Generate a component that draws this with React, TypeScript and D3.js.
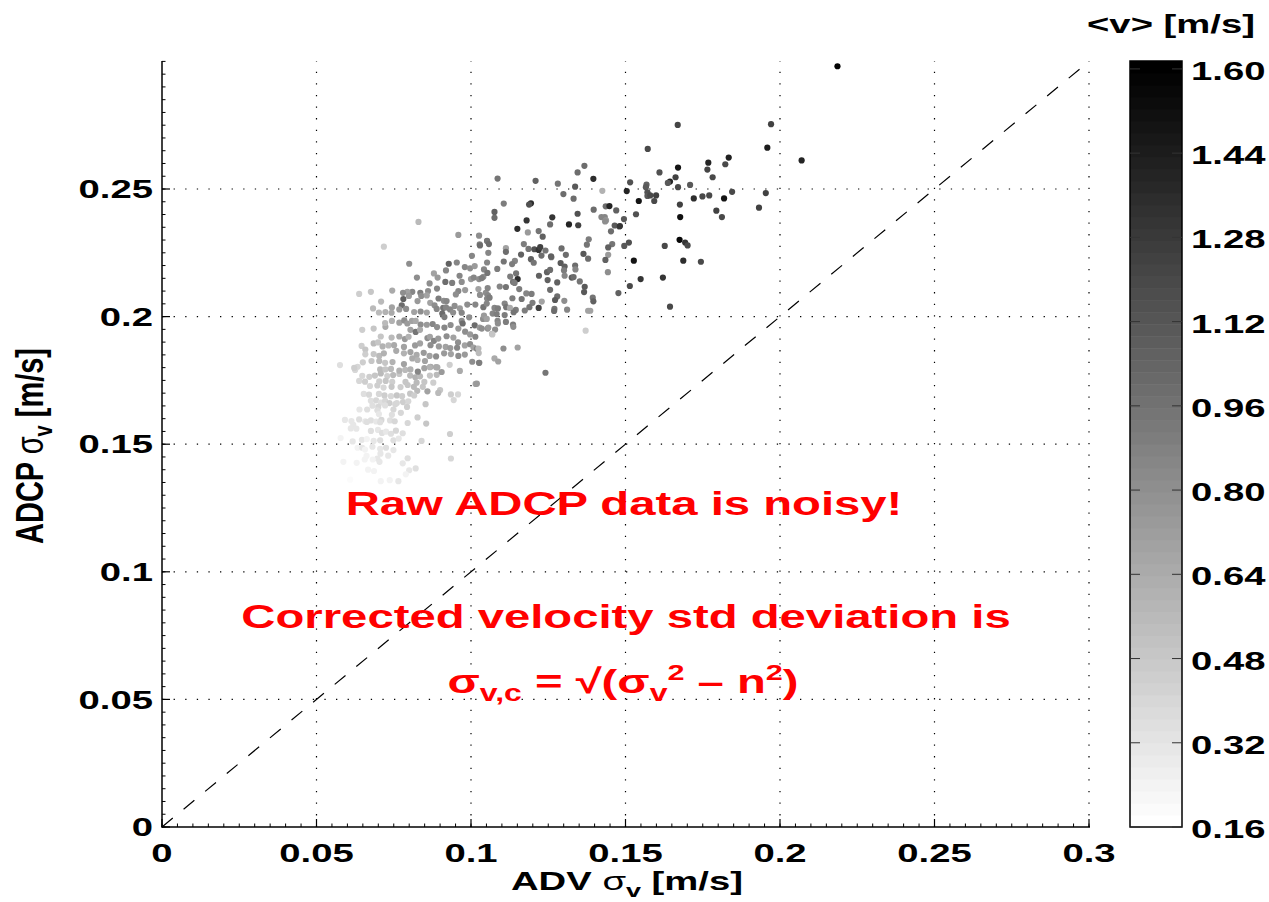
import React from 'react';
import * as d3 from 'd3';

// ---------- axis / colorbar ticks ----------
const xTicks = [0, 0.05, 0.1, 0.15, 0.2, 0.25, 0.3];
const xTickLabels = ['0', '0.05', '0.1', '0.15', '0.2', '0.25', '0.3'];
const yTicks = [0, 0.05, 0.1, 0.15, 0.2, 0.25];
const yTickLabels = ['0', '0.05', '0.1', '0.15', '0.2', '0.25'];
const cbarTicks = [0.16, 0.32, 0.48, 0.64, 0.8, 0.96, 1.12, 1.28, 1.44, 1.6];
const cbarTickLabels = ['0.16', '0.32', '0.48', '0.64', '0.80', '0.96', '1.12', '1.28', '1.44', '1.60'];
const cbarDomain = [0.16, 1.615];

// ---------- data: [ADV sigma_v, ADCP sigma_v, <v>] ----------
type P = [number, number, number];

const lowerTail: P[] = [
  [0.0625,0.1791,0.40],[0.0648,0.1768,0.40],[0.0671,0.1764,0.45],[0.0689,0.1769,0.50],[0.0708,0.1777,0.55],
  [0.0729,0.1767,0.45],[0.0748,0.1771,0.55],[0.0768,0.1775,0.50],[0.0803,0.1769,0.55],[0.0820,0.1762,0.60],
  [0.0835,0.1766,0.55],[0.0867,0.1769,0.50],[0.0889,0.1772,0.55],[0.1015,0.1736,0.70],[0.0638,0.1748,0.40],
  [0.0657,0.1745,0.45],[0.0703,0.1746,0.45],[0.0724,0.1748,0.50],[0.0745,0.1744,0.45],[0.0788,0.1744,0.50],
  [0.0824,0.1741,0.55],[0.0849,0.1744,0.50],[0.0878,0.1741,0.45],[0.0673,0.1728,0.40],[0.0697,0.1730,0.45],
  [0.0717,0.1722,0.40],[0.0743,0.1725,0.50],[0.0772,0.1724,0.45],[0.0795,0.1732,0.50],[0.0815,0.1725,0.55],
  [0.0844,0.1725,0.50],[0.0859,0.1707,0.70],[0.0826,0.1709,0.55],[0.0900,0.1712,0.50],[0.0894,0.1701,0.55],
  [0.0653,0.1697,0.35],[0.0670,0.1694,0.40],[0.0702,0.1697,0.40],[0.0720,0.1691,0.45],[0.0741,0.1688,0.40],
  [0.0760,0.1691,0.50],[0.0777,0.1688,0.45],[0.0803,0.1698,0.50],[0.0816,0.1691,0.45],[0.0935,0.1695,0.45],
  [0.0958,0.1695,0.40],[0.0676,0.1670,0.35],[0.0693,0.1672,0.40],[0.0708,0.1663,0.35],[0.0722,0.1670,0.40],
  [0.0736,0.1661,0.45],[0.0760,0.1661,0.40],[0.0780,0.1665,0.45],[0.0797,0.1668,0.40],[0.0944,0.1673,0.40],
  [0.0681,0.1651,0.35],[0.0700,0.1646,0.40],[0.0722,0.1652,0.35],[0.0755,0.1657,0.40],[0.0793,0.1646,0.45],
  [0.0853,0.1657,0.50],[0.0639,0.1636,0.30],[0.0664,0.1636,0.35],[0.0697,0.1633,0.35],[0.0749,0.1636,0.40],
  [0.0702,0.1618,0.30],[0.0744,0.1615,0.35],[0.0773,0.1623,0.40],[0.0592,0.1595,0.30],[0.0613,0.1591,0.30],
  [0.0638,0.1597,0.35],[0.0658,0.1590,0.30],[0.0676,0.1593,0.35],[0.0693,0.1589,0.30],[0.0710,0.1595,0.40],
  [0.0738,0.1593,0.35],[0.0753,0.1590,0.40],[0.0795,0.1583,0.40],[0.0827,0.1605,0.45],[0.0855,0.1581,0.50],
  [0.0619,0.1576,0.30],[0.0663,0.1587,0.35],[0.0706,0.1586,0.35],[0.0611,0.1562,0.30],[0.0629,0.1561,0.30],
  [0.0676,0.1552,0.35],[0.0699,0.1556,0.30],[0.0712,0.1544,0.35],[0.0725,0.1549,0.30],[0.0741,0.1541,0.35],
  [0.0757,0.1553,0.40],[0.0779,0.1543,0.35],[0.0932,0.1540,0.45],[0.0840,0.1513,0.40],[0.0578,0.1524,0.25],
  [0.0617,0.1511,0.30],[0.0647,0.1517,0.30],[0.0663,0.1520,0.25],[0.0685,0.1513,0.30],[0.0706,0.1515,0.35],
  [0.0749,0.1515,0.35],[0.0766,0.1522,0.30],[0.0633,0.1486,0.25],[0.0648,0.1486,0.30],[0.0657,0.1479,0.25],
  [0.0681,0.1490,0.30],[0.0706,0.1482,0.30],[0.0725,0.1486,0.35],[0.0749,0.1477,0.30],[0.0662,0.1454,0.25],
  [0.0707,0.1463,0.30],[0.0732,0.1455,0.30],[0.0656,0.1440,0.25],[0.0697,0.1444,0.30],[0.0935,0.1444,0.40],
  [0.0587,0.1431,0.25],[0.0630,0.1427,0.25],[0.0682,0.1440,0.25],[0.0704,0.1431,0.30],[0.0779,0.1425,0.30],
  [0.0795,0.1445,0.35],[0.0800,0.1398,0.30],[0.0821,0.1405,0.35],[0.0667,0.1400,0.25],[0.0686,0.1395,0.25],
  [0.0609,0.1361,0.20],[0.0708,0.1355,0.25],[0.0737,0.1359,0.25],[0.0765,0.1355,0.30],[0.0789,0.1382,0.25],
];

const coreCluster: P[] = [
  [0.0959,0.2320,0.75],[0.0718,0.2274,0.45],[0.0830,0.2371,0.55],[0.1026,0.2317,0.80],[0.1052,0.2296,0.80],
  [0.1028,0.2283,0.85],[0.1003,0.2238,0.85],[0.0800,0.2207,0.80],[0.0928,0.2207,1.05],[0.0954,0.2212,0.85],
  [0.0980,0.2194,0.85],[0.0997,0.2189,0.80],[0.1012,0.2198,0.75],[0.0919,0.2181,0.85],[0.0880,0.2169,0.70],
  [0.0825,0.2153,0.80],[0.0963,0.2160,0.85],[0.0892,0.2153,0.75],[0.0866,0.2130,0.80],[0.0917,0.2136,1.00],
  [0.0939,0.2132,0.90],[0.0970,0.2136,0.80],[0.1000,0.2147,0.75],[0.1009,0.2153,0.85],[0.1026,0.2147,0.80],
  [0.1040,0.2156,0.80],[0.0890,0.2110,0.85],[0.0861,0.2100,0.80],[0.0836,0.2093,0.90],[0.0810,0.2097,0.85],
  [0.0794,0.2097,0.70],[0.0780,0.2093,0.80],[0.0745,0.2102,0.65],[0.0676,0.2097,0.50],[0.0638,0.2089,0.45],
  [0.0959,0.2100,0.85],[0.0951,0.2087,0.80],[0.0981,0.2104,0.75],[0.1024,0.2108,0.70],[0.1048,0.2093,0.80],
  [0.1052,0.2071,0.85],[0.0709,0.2059,0.55],[0.0781,0.2069,1.05],[0.0799,0.2081,0.75],[0.0839,0.2081,0.80],
  [0.0857,0.2083,0.70],[0.0895,0.2071,0.90],[0.0912,0.2062,0.80],[0.0921,0.2061,0.85],[0.0827,0.2061,0.75],
  [0.0868,0.2054,0.70],[0.0776,0.2044,1.00],[0.0790,0.2030,0.80],[0.0744,0.2036,0.70],[0.0723,0.2018,0.60],
  [0.0702,0.2016,0.55],[0.0683,0.2032,0.55],[0.0882,0.2044,0.80],[0.0889,0.2030,0.85],[0.0910,0.2034,0.95],
  [0.0919,0.2036,0.85],[0.0947,0.2042,0.80],[0.0964,0.2032,0.75],[0.0988,0.2047,0.80],[0.1014,0.2047,0.85],
  [0.0816,0.2018,0.70],[0.0837,0.2020,0.80],[0.0857,0.2016,0.70],[0.0743,0.2015,0.65],[0.0768,0.2028,0.75],
  [0.0907,0.2012,1.00],[0.0914,0.1998,0.90],[0.0932,0.2028,0.85],[0.0942,0.2016,0.80],[0.0970,0.2015,0.85],
  [0.0970,0.1983,0.80],[0.0973,0.1973,1.00],[0.0994,0.1997,0.80],[0.1012,0.1966,1.00],[0.1039,0.1991,0.80],
  [0.1028,0.1957,0.75],[0.1054,0.1953,0.80],[0.0648,0.1948,0.45],[0.0685,0.1953,0.50],[0.0723,0.1960,0.65],
  [0.0722,0.1975,0.55],[0.0744,0.1983,0.60],[0.0768,0.1976,0.70],[0.0784,0.1985,0.80],[0.0794,0.1973,0.75],
  [0.0809,0.1983,0.70],[0.0821,0.1983,0.65],[0.0837,0.1969,0.80],[0.0857,0.1968,0.75],[0.0876,0.1971,0.85],
  [0.0890,0.1959,0.80],[0.0914,0.1957,0.85],[0.0934,0.1967,0.80],[0.0959,0.1953,0.75],[0.0981,0.1941,0.80],
  [0.0804,0.1948,0.70],[0.0821,0.1940,0.95],[0.0835,0.1948,0.65],[0.0708,0.1922,0.50],[0.0743,0.1918,0.55],
  [0.0768,0.1922,0.65],[0.0786,0.1912,0.75],[0.0798,0.1921,0.60],[0.0859,0.1916,0.80],[0.0867,0.1921,0.70],
  [0.0880,0.1905,0.85],[0.0894,0.1914,0.75],[0.0921,0.1923,0.80],[0.0943,0.1918,0.70],[0.0958,0.1899,0.80],
  [0.0997,0.1930,0.75],[0.1014,0.1921,0.85],[0.0646,0.1885,0.45],[0.0658,0.1871,0.50],[0.0685,0.1895,0.55],
  [0.0699,0.1899,0.50],[0.0714,0.1883,0.60],[0.0733,0.1887,0.55],[0.0751,0.1888,0.65],[0.0783,0.1881,0.70],
  [0.0819,0.1887,0.75],[0.0835,0.1895,0.70],[0.0869,0.1888,0.80],[0.0896,0.1883,0.75],[0.0918,0.1881,0.70],
  [0.0933,0.1877,0.75],[0.0955,0.1878,0.85],[0.0980,0.1887,0.70],[0.0997,0.1892,0.80],[0.1008,0.1879,0.70],
  [0.1019,0.1874,0.85],[0.0658,0.1852,0.45],[0.0685,0.1853,0.50],[0.0703,0.1846,0.55],[0.0718,0.1856,0.60],
  [0.0758,0.1866,0.65],[0.0783,0.1856,0.60],[0.0804,0.1861,0.70],[0.0824,0.1850,0.65],[0.0847,0.1858,0.75],
  [0.0866,0.1846,0.70],[0.0887,0.1844,0.80],[0.0913,0.1856,0.75],[0.0935,0.1853,0.70],[0.0959,0.1846,0.80],
  [0.0980,0.1851,0.75],[0.0650,0.1821,0.45],[0.0678,0.1826,0.50],[0.0703,0.1826,0.55],[0.0722,0.1819,0.50],
  [0.0746,0.1822,0.60],[0.0783,0.1814,0.70],[0.0810,0.1836,0.65],[0.0827,0.1830,0.60],[0.0851,0.1826,0.70],
  [0.0869,0.1803,0.75],[0.0891,0.1801,0.65],[0.0576,0.1810,0.35],[0.0633,0.1803,0.40],[0.0622,0.1799,0.45],
  [0.0706,0.1793,0.55],[0.0723,0.1793,0.50],[0.0741,0.1795,0.55],[0.0768,0.1788,0.60],[0.0787,0.1791,0.55],
  [0.0804,0.1793,0.60],[0.0828,0.1784,0.85],[0.0849,0.1798,0.70],[0.0867,0.1802,0.60],[0.0887,0.1802,0.65],
  [0.0905,0.1783,0.75],[0.0964,0.1787,0.65],[0.0931,0.1811,0.45],[0.1004,0.1823,0.80],[0.1027,0.1819,0.75],
];

const centralBand: P[] = [
  [0.1086,0.2541,0.95],[0.1209,0.2532,1.05],[0.1106,0.2443,0.90],[0.1194,0.2444,1.35],[0.1188,0.2439,1.15],
  [0.1076,0.2410,1.05],[0.1076,0.2387,1.00],[0.1180,0.2377,1.30],[0.1150,0.2344,1.35],[0.1184,0.2330,0.75],
  [0.1219,0.2335,0.95],[0.1232,0.2313,1.05],[0.1052,0.2297,0.95],[0.1058,0.2284,1.00],[0.1029,0.2279,1.00],
  [0.1171,0.2284,0.90],[0.1186,0.2265,0.95],[0.1205,0.2264,1.15],[0.1219,0.2261,1.30],[0.1224,0.2272,1.25],
  [0.1241,0.2259,0.95],[0.1113,0.2268,0.70],[0.1113,0.2254,1.00],[0.1056,0.2250,0.85],[0.1162,0.2243,1.05],
  [0.1228,0.2239,1.00],[0.1260,0.2233,1.00],[0.1194,0.2225,1.05],[0.1203,0.2211,0.95],[0.1106,0.2216,0.95],
  [0.1052,0.2212,0.85],[0.1142,0.2218,0.85],[0.1133,0.2206,0.90],[0.1042,0.2185,0.85],[0.1085,0.2187,0.90],
  [0.1246,0.2174,1.05],[0.1248,0.2143,1.05],[0.1220,0.2160,1.05],[0.1127,0.2157,0.90],[0.1146,0.2169,0.95],
  [0.1151,0.2147,1.35],[0.1136,0.2136,0.95],[0.1141,0.2132,0.90],[0.1053,0.2171,0.95],[0.1035,0.2151,0.90],
  [0.1093,0.2118,0.85],[0.1113,0.2116,0.95],[0.1054,0.2112,0.85],[0.1156,0.2108,0.90],[0.1179,0.2091,0.85],
  [0.1196,0.2089,0.90],[0.1029,0.2085,0.80],[0.1055,0.2083,0.85],[0.1060,0.2074,0.90],[0.1134,0.2072,0.90],
  [0.1164,0.2069,0.95],[0.1199,0.2054,0.90],[0.1189,0.2037,0.95],[0.1229,0.2059,0.70],[0.1109,0.2051,0.85],
  [0.1114,0.2037,0.95],[0.1076,0.2034,0.85],[0.1087,0.2032,0.90],[0.1040,0.2037,0.95],[0.1051,0.2051,0.85],
  [0.1126,0.2034,0.65],[0.1145,0.2026,0.90],[0.1138,0.2017,0.95],[0.1174,0.2024,0.90],[0.1219,0.2034,1.25],
  [0.1070,0.2012,0.85],[0.1083,0.2010,0.90],[0.1042,0.2004,0.75],[0.1051,0.1991,0.70],[0.1109,0.2006,0.90],
  [0.1113,0.1979,0.90],[0.1086,0.1983,0.85],[0.1087,0.1973,0.80],[0.1136,0.1969,0.90],[0.1137,0.1960,0.80],
  [0.1056,0.1957,0.75],[0.1078,0.1949,0.80],[0.1035,0.1953,0.80],[0.1068,0.1932,0.55],[0.1270,0.2030,0.95],
  [0.1105,0.1875,0.80],[0.1151,0.1879,0.70],[0.1076,0.1836,0.65],[0.1088,0.1824,0.70],[0.1026,0.1819,0.90],
  [0.1241,0.1780,0.95],[0.1019,0.1737,0.75],[0.1024,0.1875,0.55],[0.1025,0.1857,0.55],[0.1069,0.1930,0.50],
];

const upperMid: P[] = [
  [0.1367,0.2591,1.00],[0.1345,0.2565,1.00],[0.1396,0.2540,1.35],[0.1281,0.2521,0.95],[0.1337,0.2509,1.10],
  [0.1425,0.2493,0.60],[0.1299,0.2480,1.00],[0.1332,0.2462,1.00],[0.1436,0.2432,1.00],[0.1448,0.2433,1.40],
  [0.1397,0.2419,1.00],[0.1470,0.2416,1.05],[0.1263,0.2389,1.30],[0.1422,0.2390,0.85],[0.1433,0.2390,0.85],
  [0.1437,0.2377,0.75],[0.1434,0.2373,0.80],[0.1345,0.2403,1.15],[0.1317,0.2361,1.40],[0.1347,0.2358,1.25],
  [0.1256,0.2361,1.00],[0.1465,0.2357,1.10],[0.1480,0.2353,1.15],[0.1453,0.2334,1.00],[0.1381,0.2303,0.90],
  [0.1375,0.2282,0.95],[0.1457,0.2284,0.95],[0.1444,0.2271,1.05],[0.1293,0.2267,1.00],[0.1307,0.2242,1.00],
  [0.1364,0.2246,1.10],[0.1379,0.2227,1.00],[0.1444,0.2242,0.75],[0.1259,0.2236,1.05],[0.1435,0.2222,1.05],
  [0.1290,0.2210,1.10],[0.1303,0.2196,1.05],[0.1337,0.2200,1.00],[0.1338,0.2185,0.85],[0.1301,0.2181,0.90],
  [0.1303,0.2160,0.85],[0.1256,0.2183,1.00],[0.1443,0.2174,0.80],[0.1326,0.2153,1.10],[0.1332,0.2155,1.00],
  [0.1352,0.2138,0.95],[0.1279,0.2134,1.05],[0.1368,0.2117,1.10],[0.1366,0.2096,1.10],[0.1256,0.2105,1.00],
  [0.1394,0.2074,0.95],[0.1396,0.2060,1.05],[0.1477,0.2092,1.05],[0.1279,0.2079,1.00],[0.1272,0.2065,1.10],
  [0.1302,0.2062,0.80],[0.1269,0.2022,1.00],[0.1311,0.2027,0.85],[0.1379,0.2023,0.70],[0.1386,0.2023,0.70],
  [0.1371,0.1945,0.45],
];

const upperSparse: P[] = [
  [0.2186,0.2981,1.58],[0.1669,0.2751,1.22],[0.1971,0.2754,1.25],[0.1572,0.2657,1.20],[0.1959,0.2662,1.45],
  [0.1834,0.2623,1.42],[0.1768,0.2603,1.40],[0.1823,0.2597,1.20],[0.1670,0.2584,1.50],[0.1765,0.2576,1.22],
  [0.1610,0.2565,1.15],[0.1782,0.2546,1.20],[0.1662,0.2546,1.25],[0.1644,0.2529,1.40],[0.1637,0.2524,1.10],
  [0.1515,0.2526,1.15],[0.1568,0.2517,1.05],[0.1566,0.2507,1.10],[0.1670,0.2507,1.20],[0.1709,0.2516,1.10],
  [0.1504,0.2492,1.40],[0.1571,0.2487,1.15],[0.1571,0.2473,1.10],[0.1599,0.2475,1.25],[0.1580,0.2475,1.20],
  [0.1845,0.2489,1.20],[0.1954,0.2484,1.25],[0.1543,0.2453,1.50],[0.1593,0.2453,1.20],[0.1721,0.2463,1.35],
  [0.1749,0.2471,1.20],[0.1771,0.2475,1.20],[0.1819,0.2463,1.50],[0.1676,0.2439,1.25],[0.2070,0.2612,1.40],
  [0.1932,0.2427,1.25],[0.1794,0.2415,1.25],[0.1534,0.2401,1.15],[0.1812,0.2390,1.20],[0.1677,0.2390,1.52],
  [0.1495,0.2382,1.10],[0.1482,0.2355,1.30],[0.1675,0.2301,1.55],[0.1693,0.2290,1.30],[0.1701,0.2279,1.20],
  [0.1511,0.2290,1.15],[0.1496,0.2277,1.10],[0.1627,0.2277,1.20],[0.1527,0.2219,1.50],[0.1687,0.2219,1.35],
  [0.1744,0.2215,1.20],[0.1549,0.2147,1.30],[0.1621,0.2153,1.30],[0.1514,0.2120,1.20],[0.1644,0.2039,1.20],
];

const FONT = '"Liberation Sans", Arial, Helvetica, sans-serif';
const SX = 1.5; // horizontal stretch of the original raster text

export default function App() {
  const W = 1269, H = 902;
  const x = d3.scaleLinear().domain([0, 0.3]).range([162, 1089]);
  const y = d3.scaleLinear().domain([0, 0.3]).range([827, 61.4]);
  const cb = d3.scaleLinear().domain(cbarDomain).range([827, 61]);
  const nLev = 64;
  const levelGray = (k: number) => {
    const g = Math.round(255 * (1 - k / (nLev - 1)));
    return `rgb(${g},${g},${g})`;
  };
  const colorOf = (v: number) => {
    let k = Math.floor(((v - cbarDomain[0]) / (cbarDomain[1] - cbarDomain[0])) * nLev);
    k = Math.max(0, Math.min(nLev - 1, k));
    return levelGray(k);
  };
  const minor = d3.range(0, 0.30001, 0.005);
  const allPts = [...lowerTail, ...coreCluster, ...centralBand, ...upperMid, ...upperSparse];
  const cbLeft = 1130, cbRight = 1182;
  const step = (cbarDomain[1] - cbarDomain[0]) / nLev;

  const stretched = (cx: number, cy: number, children: React.ReactNode, extra: any = {}, sx: number = SX) => (
    <g transform={`translate(${cx},${cy}) scale(${sx},1)`}>
      <text x={0} y={0} {...extra}>{children}</text>
    </g>
  );

  return (
    <svg width={W} height={H} style={{ position: 'absolute', left: 0, top: 0, background: '#fff' }}
      fontFamily={FONT} fontWeight="bold">
      <rect x={0} y={0} width={W} height={H} fill="#fff" />
      {/* grid */}
      {xTicks.slice(1).map((t) => (
        <line key={'gx' + t} x1={x(t)} x2={x(t)} y1={827} y2={61} stroke="#000" strokeWidth={1.2}
          strokeDasharray="1.3 10.3" />
      ))}
      {yTicks.slice(1).map((t) => (
        <line key={'gy' + t} x1={162} x2={1089} y1={y(t)} y2={y(t)} stroke="#000" strokeWidth={1.2}
          strokeDasharray="1.3 10.3" />
      ))}
      {/* 1:1 line */}
      <line x1={x(0)} y1={y(0)} x2={x(0.3)} y2={y(0.3)} stroke="#000" strokeWidth={1.2} strokeDasharray="14 14" />
      {/* points */}
      {allPts.map((p, i) => (
        <circle key={i} cx={x(p[0])} cy={y(p[1])} r={3.1} fill={colorOf(p[2])} />
      ))}
      {/* axes */}
      <line x1={162} x2={162} y1={61} y2={827.5} stroke="#000" strokeWidth={1.5} />
      <line x1={161.5} x2={1090} y1={827} y2={827} stroke="#000" strokeWidth={1.5} />
      {minor.map((t, i) => (
        <g key={'m' + i}>
          <line x1={x(t)} x2={x(t)} y1={827} y2={823.5} stroke="#000" strokeWidth={1} />
          <line x1={162} x2={165.5} y1={y(t)} y2={y(t)} stroke="#000" strokeWidth={1} />
        </g>
      ))}
      {xTicks.map((t) => (
        <line key={'tx' + t} x1={x(t)} x2={x(t)} y1={827} y2={819} stroke="#000" strokeWidth={1.2} />
      ))}
      {yTicks.map((t) => (
        <line key={'ty' + t} x1={162} x2={170} y1={y(t)} y2={y(t)} stroke="#000" strokeWidth={1.2} />
      ))}
      {/* tick labels */}
      {xTicks.map((t, i) => (
        <g key={'lx' + t}>{stretched(x(t), 862, xTickLabels[i], { fontSize: 25.5, textAnchor: 'middle' })}</g>
      ))}
      {yTicks.map((t, i) => (
        <g key={'ly' + t}>{stretched(153, y(t) + 9.2, yTickLabels[i], { fontSize: 25.5, textAnchor: 'end' })}</g>
      ))}
      {/* axis titles */}
      {stretched(627, 890, (
        <>
          ADV <tspan fontWeight="normal">σ</tspan><tspan dy={7} fontSize={18}>v</tspan><tspan dy={-7}> [m/s]</tspan>
        </>
      ), { fontSize: 25.5, textAnchor: 'middle' })}
      <g transform={`translate(43,446) scale(1.32,1) rotate(-90)`}>
        <text x={0} y={0} fontSize={29} textAnchor="middle">
          ADCP <tspan fontWeight="normal">σ</tspan><tspan dy={7} fontSize={20}>v</tspan><tspan dy={-7}> [m/s]</tspan>
        </text>
      </g>
      {/* red annotations */}
      {stretched(624, 515, 'Raw ADCP data is noisy!', { fontSize: 34, textAnchor: 'middle', fill: '#ff0000' }, 1.39)}
      {stretched(626, 628, 'Corrected velocity std deviation is', { fontSize: 34, textAnchor: 'middle', fill: '#ff0000' }, 1.39)}
      {stretched(623, 693, (
        <>
          σ<tspan dy={8} fontSize={23}>v,c</tspan><tspan dy={-8}> = √(σ</tspan><tspan dy={8} fontSize={23}>v</tspan>
          <tspan dy={-21} fontSize={22}>2</tspan><tspan dy={13}> – n</tspan><tspan dy={-13} fontSize={22}>2</tspan>
          <tspan dy={13}>)</tspan>
        </>
      ), { fontSize: 34, textAnchor: 'middle', fill: '#ff0000' }, 1.39)}
      {/* colorbar */}
      {d3.range(nLev).map((k) => (
        <rect key={'cb' + k} x={cbLeft} width={cbRight - cbLeft}
          y={cb(cbarDomain[0] + (k + 1) * step)} height={cb(cbarDomain[0] + k * step) - cb(cbarDomain[0] + (k + 1) * step) + 0.5}
          fill={levelGray(k)} />
      ))}
      <rect x={cbLeft} y={61} width={cbRight - cbLeft} height={766} fill="none" stroke="#000" strokeWidth={1.5} />
      {cbarTicks.map((t, i) => (
        <g key={'cbt' + t}>
          <line x1={cbLeft} x2={cbLeft + 10} y1={cb(t)} y2={cb(t)} stroke="#333" strokeWidth={1} />
          <line x1={cbRight - 10} x2={cbRight} y1={cb(t)} y2={cb(t)} stroke="#333" strokeWidth={1} />
          {stretched(1191, cb(t) + 11, cbarTickLabels[i], { fontSize: 25.5, textAnchor: 'start' })}
        </g>
      ))}
      {stretched(1171, 33, '<v> [m/s]', { fontSize: 25.5, textAnchor: 'middle' })}
    </svg>
  );
}
